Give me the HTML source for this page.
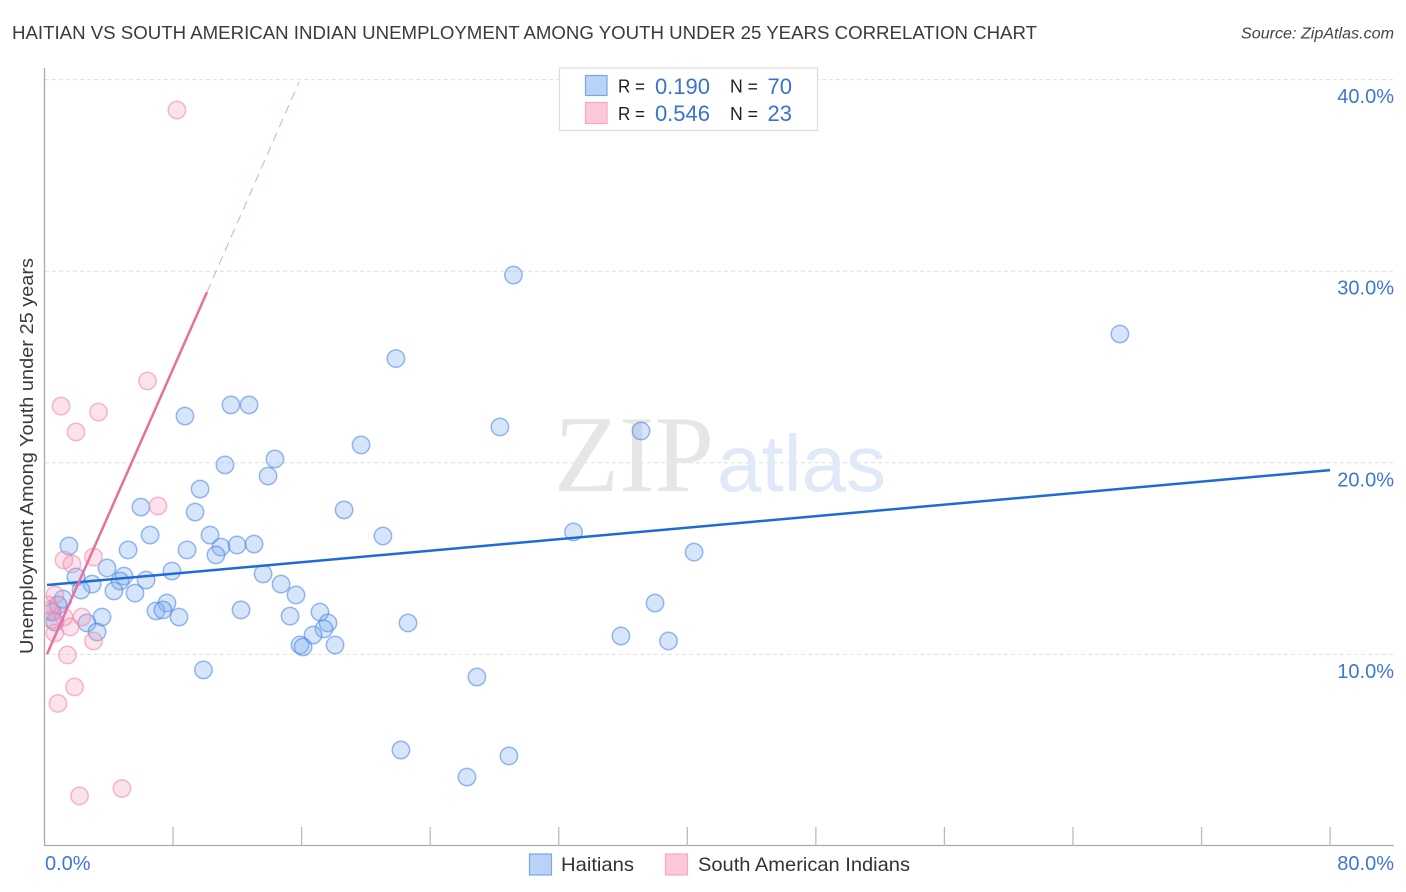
<!DOCTYPE html>
<html>
<head>
<meta charset="utf-8">
<title>Haitian vs South American Indian Unemployment Chart</title>
<style>
html,body{margin:0;padding:0;background:#fff;width:1406px;height:892px;overflow:hidden}
svg{display:block;font-family:"Liberation Sans",sans-serif}
</style>
</head>
<body>
<svg id="chart" xmlns="http://www.w3.org/2000/svg" width="1406" height="892" viewBox="0 0 1406 892">
  <defs>
    <clipPath id="plot-clip"><rect x="45.5" y="60" width="1350" height="786"/></clipPath>
  </defs>
  <rect x="0" y="0" width="1406" height="892" fill="#fff"/>
  <text x="12" y="39" font-size="18.5" fill="#3a3a3a" textLength="1025" lengthAdjust="spacingAndGlyphs">HAITIAN VS SOUTH AMERICAN INDIAN UNEMPLOYMENT AMONG YOUTH UNDER 25 YEARS CORRELATION CHART</text>
  <text x="1394" y="38.5" font-size="15.5" font-style="italic" fill="#444" text-anchor="end" textLength="153" lengthAdjust="spacingAndGlyphs">Source: ZipAtlas.com</text>
  <g id="grid-layer"></g>
  <g>
    <text x="554" y="491" font-family="'Liberation Serif',serif" font-size="109" fill="#e6e6e6" textLength="160" lengthAdjust="spacingAndGlyphs">ZIP</text>
    <text x="717" y="491" font-size="80" fill="#e0e9f8">atlas</text>
  </g>
  <g clip-path="url(#plot-clip)">
    <g id="blue-layer"></g>
    <g id="pink-layer"></g>
  </g>
  <g id="trend-layer"></g>
  <g id="axis-layer"></g>
  <text transform="translate(33,654) rotate(-90)" font-size="18" fill="#3a3a3a" textLength="396" lengthAdjust="spacingAndGlyphs">Unemployment Among Youth under 25 years</text>
  <g>
    <rect x="559.5" y="68" width="258" height="62.5" fill="#fff" stroke="#ddd" stroke-width="1.2"/>
    <rect x="585.5" y="75.5" width="21.5" height="20" fill="#b8d3f7" stroke="#7ba6e3" stroke-width="1.2"/>
    <rect x="585.5" y="102.5" width="21.5" height="21" fill="#fcc8da" stroke="#f4a9c0" stroke-width="1.2"/>
    <text x="618" y="92.5" font-size="18" fill="#222" textLength="27" lengthAdjust="spacingAndGlyphs">R =</text>
    <text x="710" y="94" font-size="22" fill="#3a72d3" text-anchor="end">0.190</text>
    <text x="730" y="92.5" font-size="18" fill="#222" textLength="28" lengthAdjust="spacingAndGlyphs">N =</text>
    <text x="792" y="94" font-size="22" fill="#3a72d3" text-anchor="end">70</text>
    <text x="618" y="120" font-size="18" fill="#222" textLength="27" lengthAdjust="spacingAndGlyphs">R =</text>
    <text x="710" y="121" font-size="22" fill="#3a72d3" text-anchor="end">0.546</text>
    <text x="730" y="120" font-size="18" fill="#222" textLength="28" lengthAdjust="spacingAndGlyphs">N =</text>
    <text x="792" y="121" font-size="22" fill="#3a72d3" text-anchor="end">23</text>
  </g>
  <g>
    <rect x="529.5" y="854" width="22" height="21" fill="#b8d3f7" stroke="#7ba6e3" stroke-width="1.2"/>
    <text x="561" y="871" font-size="19.5" fill="#333" textLength="73" lengthAdjust="spacingAndGlyphs">Haitians</text>
    <rect x="665.5" y="854" width="22" height="21" fill="#fcc8da" stroke="#f4a9c0" stroke-width="1.2"/>
    <text x="698" y="871" font-size="19.5" fill="#333" textLength="212" lengthAdjust="spacingAndGlyphs">South American Indians</text>
  </g>
</svg>
<script>
const yTickValues = [10, 20, 30, 40];
const yTickLabels = ["10.0%", "20.0%", "30.0%", "40.0%"];
const xTickValues = [8, 16, 24, 32, 40, 48, 56, 64, 72, 80];
const xEndLabels = ["0.0%", "80.0%"];

const haitiansX = [29.18,66.92,21.87,11.60,12.73,8.74,28.34,37.12,19.70,14.34,11.23,13.91,9.68,6.00,9.37,18.64,32.92,21.06,6.57,10.30,11.98,13.04,10.98,8.87,10.67,5.20,1.52,40.42,3.89,7.93,13.60,1.96,4.95,4.70,6.32,2.96,14.72,2.27,4.32,5.63,15.65,1.15,7.62,37.99,6.94,7.37,12.23,17.14,8.37,15.28,3.58,2.64,17.64,22.62,17.39,3.27,16.71,35.87,38.83,15.90,16.09,18.08,9.89,26.91,22.18,28.90,26.29,0.84,0.65,0.47];
const haitiansY = [29.80,26.72,25.44,23.02,23.02,22.44,21.87,21.66,20.93,20.20,19.89,19.31,18.63,17.69,17.43,17.54,16.39,16.18,16.23,16.23,15.71,15.76,15.60,15.45,15.19,15.45,15.66,15.34,14.51,14.35,14.20,14.04,14.09,13.83,13.88,13.67,13.67,13.36,13.31,13.20,13.10,12.89,12.68,12.68,12.27,12.32,12.32,12.21,11.95,12.00,11.95,11.64,11.64,11.64,11.33,11.17,11.01,10.96,10.70,10.49,10.39,10.49,9.19,8.82,5.01,4.70,3.60,12.58,11.69,12.21];

const indiansX = [8.24,6.41,1.03,3.36,1.96,7.06,3.05,1.21,1.71,0.65,2.33,1.21,1.59,3.05,0.65,1.43,1.87,0.84,4.82,2.18,0.35,0.47,0.22];
const indiansY = [38.41,24.27,22.96,22.65,21.61,17.75,15.08,14.93,14.72,13.10,11.95,11.95,11.43,10.70,11.12,9.97,8.30,7.44,3.00,2.61,12.32,11.80,12.58];

const haitiansTrendX = [0.16, 80];
const haitiansTrendY = [13.62, 19.62];
const indiansSolidX = [0.16, 10.11];
const indiansSolidY = [10.02, 28.91];
const indiansDashX = [10.11, 15.84];
const indiansDashY = [28.91, 39.87];

const NS = "http://www.w3.org/2000/svg";
function sx(v) { return 44.5 + v * 16.07; }
function sy(v) { return 846 - v * 19.16; }
function mk(tag, parent, attrs) {
  const el = document.createElementNS(NS, tag);
  for (const k in attrs) el.setAttribute(k, attrs[k]);
  document.getElementById(parent).appendChild(el);
  return el;
}

yTickValues.forEach(function (v, i) {
  const line = mk("line", "grid-layer", { x1: 45, x2: 1394, y1: sy(v), y2: sy(v), stroke: "#e0e0e0", "stroke-width": 1, "stroke-dasharray": "4 3" });
  
  
  const label = mk("text", "axis-layer", { x: 1394, y: sy(v) + 23.5, "font-size": 20, fill: "#3f76d6", "text-anchor": "end" });
  
  
  label.textContent = yTickLabels[i];
});

haitiansX.forEach(function (x, i) {
  const c = mk("circle", "blue-layer", { cx: sx(x), cy: sy(haitiansY[i]), r: 8.7, fill: "rgba(130,175,240,0.33)", stroke: "rgba(70,130,225,0.55)", "stroke-width": 1.5 });
  
  
});

indiansX.forEach(function (x, i) {
  const c = mk("circle", "pink-layer", { cx: sx(x), cy: sy(indiansY[i]), r: 8.7, fill: "rgba(246,150,185,0.28)", stroke: "rgba(240,130,170,0.55)", "stroke-width": 1.5 });
  
  
});

const blueTrend = mk("line", "trend-layer", { x1: sx(haitiansTrendX[0]), y1: sy(haitiansTrendY[0]), x2: sx(haitiansTrendX[1]), y2: sy(haitiansTrendY[1]), stroke: "#1f6bd6", "stroke-width": 2.5 });



const pinkTrend = mk("line", "trend-layer", { x1: sx(indiansSolidX[0]), y1: sy(indiansSolidY[0]), x2: sx(indiansSolidX[1]), y2: sy(indiansSolidY[1]), stroke: "#e8709c", "stroke-width": 2.5 });



const pinkDash = mk("line", "trend-layer", { x1: sx(indiansDashX[0]), y1: sy(indiansDashY[0]), x2: sx(indiansDashX[1]), y2: sy(indiansDashY[1]), stroke: "#eda5bd", "stroke-width": 1, "stroke-dasharray": "9 6" });



const yAxis = mk("line", "axis-layer", { x1: 44.5, x2: 44.5, y1: 68, y2: 846, stroke: "#aaa", "stroke-width": 1.3 });



const xAxis = mk("line", "axis-layer", { x1: 44, x2: 1394, y1: 845.5, y2: 845.5, stroke: "#aaa", "stroke-width": 1.3 });



xTickValues.forEach(function (v) {
  const t = mk("line", "axis-layer", { x1: sx(v), x2: sx(v), y1: 827, y2: 846, stroke: "#bbb", "stroke-width": 1.3 });
  
  
});

const xMin = mk("text", "axis-layer", { x: 45, y: 870, "font-size": 20, fill: "#3f76d6" });


xMin.textContent = xEndLabels[0];

const xMax = mk("text", "axis-layer", { x: 1394, y: 870, "font-size": 20, fill: "#3f76d6", "text-anchor": "end" });


xMax.textContent = xEndLabels[1];
</script>
</body>
</html>
